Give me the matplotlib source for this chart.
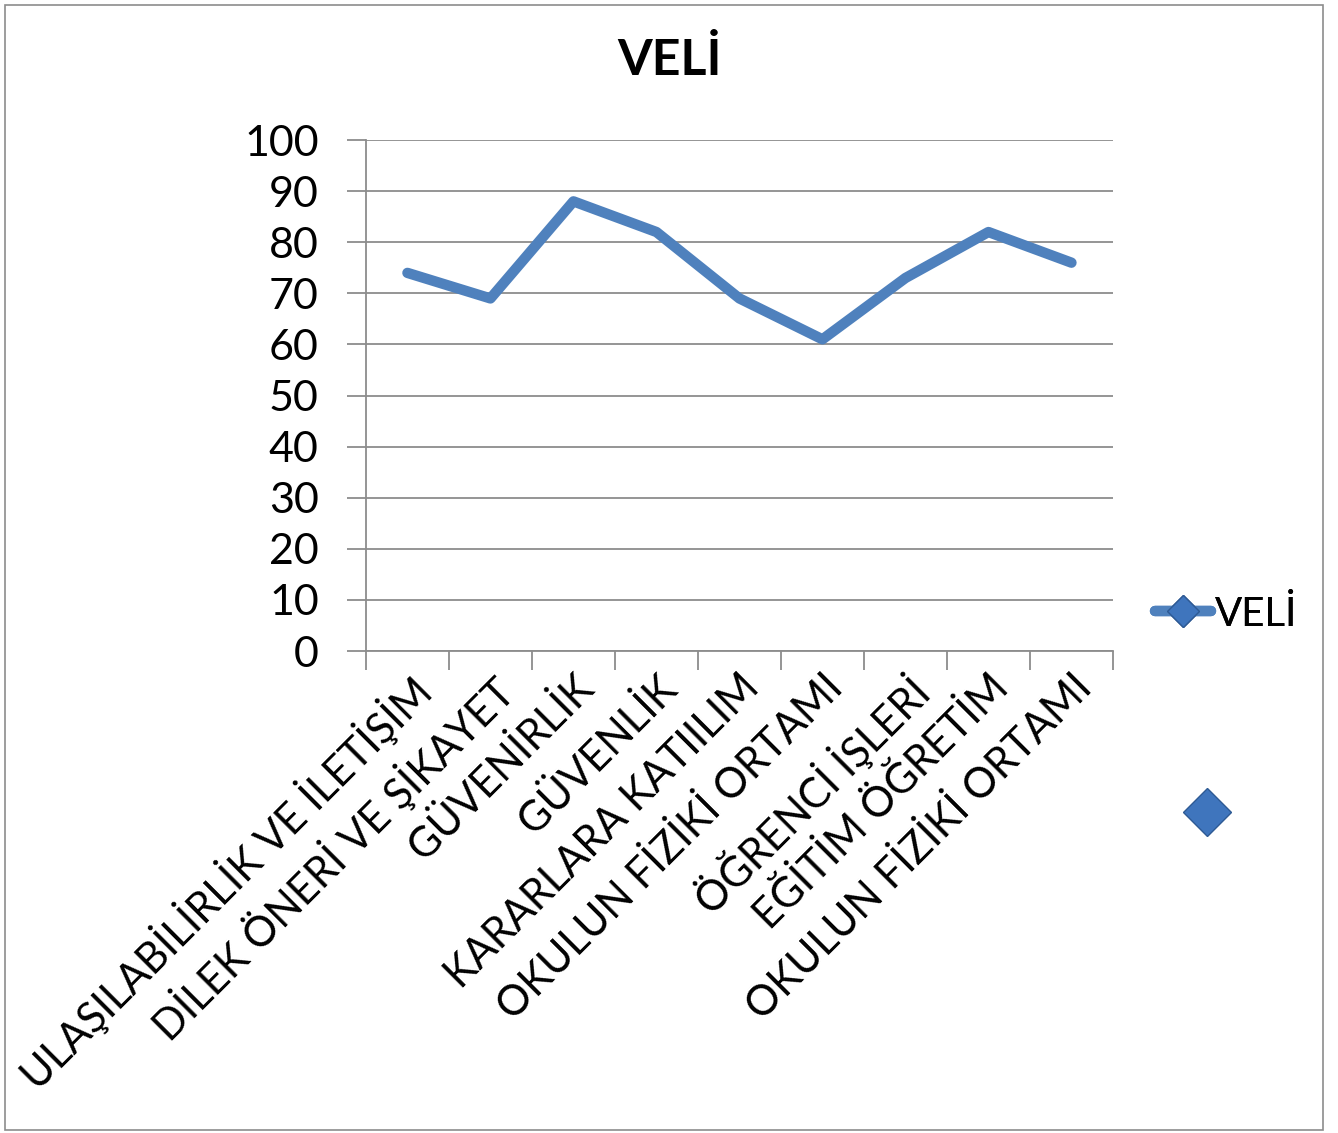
import matplotlib
matplotlib.use("Agg")
import matplotlib.pyplot as plt
import matplotlib.transforms as mtransforms
from matplotlib.lines import Line2D
from matplotlib.patches import Rectangle

categories = ["ULAŞILABİLİRLİK VE İLETİŞİM", "DİLEK ÖNERİ VE ŞİKAYET", "GÜVENİRLİK",
              "GÜVENLİK", "KARARLARA KATIILIM", "OKULUN FİZİKİ ORTAMI",
              "ÖĞRENCİ İŞLERİ", "EĞİTİM ÖĞRETİM", "OKULUN FİZİKİ ORTAMI"]
values = [74, 69, 88, 82, 69, 61, 73, 82, 76]
yticks = [0, 10, 20, 30, 40, 50, 60, 70, 80, 90, 100]
series_name = "VELİ"

plt.rcParams['font.family'] = ['Lato', 'DejaVu Sans']
color = '#4F81BD'
grid = '#8C8C8C'

fig = plt.figure(figsize=(13.38, 11.33), dpi=100)
fig.add_artist(Rectangle((0.004, 0.003), 0.985, 0.993, transform=fig.transFigure,
                         fill=False, edgecolor='#8C8C8C', linewidth=1.2))
ax = fig.add_axes([0.2735, 0.4254, 0.5583, 0.451])

x = list(range(len(categories)))
ax.plot(x, values, color=color, linewidth=7.5, solid_capstyle='round',
        solid_joinstyle='round', zorder=3)
ax.set_xlim(-0.5, len(categories) - 0.5)
ax.set_ylim(0, 100)
ax.set_yticks(yticks)
ax.set_yticklabels([str(v) for v in yticks], fontsize=31)
ax.yaxis.grid(True, color=grid, linewidth=1.3)
ax.set_axisbelow(True)
ax.set_xticks([i - 0.5 for i in range(len(categories) + 1)])
ax.set_xticklabels([])
ax.set_xticks(x, minor=True)
ax.set_xticklabels(categories, minor=True, rotation=45, ha='right',
                   va='top', rotation_mode='anchor', fontsize=30)
shift = mtransforms.ScaledTranslation(-12 / 100, 0, fig.dpi_scale_trans)
for lab in ax.get_xticklabels(minor=True):
    lab.set_transform(lab.get_transform() + shift)
ax.tick_params(axis='x', which='minor', length=0, pad=12)
ax.tick_params(axis='x', which='major', length=14, color=grid, width=1.3)
ax.tick_params(axis='y', length=14, color=grid, width=1.3, pad=20)
for s in ['top', 'right']:
    ax.spines[s].set_visible(False)
for s in ['left', 'bottom']:
    ax.spines[s].set_color(grid)
    ax.spines[s].set_linewidth(1.3)

fig.suptitle(series_name, fontsize=36, fontweight='bold', y=0.967)

h1 = Line2D([], [], color=color, linewidth=7.5, solid_capstyle='round',
            marker='D', markersize=16, markerfacecolor='#3F75BD',
            markeredgecolor='#2E5A94')
leg1 = fig.legend([h1], [series_name], loc='center left',
                  bbox_to_anchor=(0.836, 0.458), frameon=False, fontsize=29,
                  handlelength=1.4, handletextpad=0.1)
h2 = Line2D([], [], linestyle='none', marker='D', markersize=24,
            markerfacecolor='#3F75BD', markeredgecolor='#2E5A94')
fig.legend([h2], [''], loc='center', bbox_to_anchor=(0.902, 0.281),
           frameon=False, fontsize=29, handlelength=1.0, handletextpad=0.0)
fig.add_artist(leg1)

fig.savefig("out.png", dpi=100)
